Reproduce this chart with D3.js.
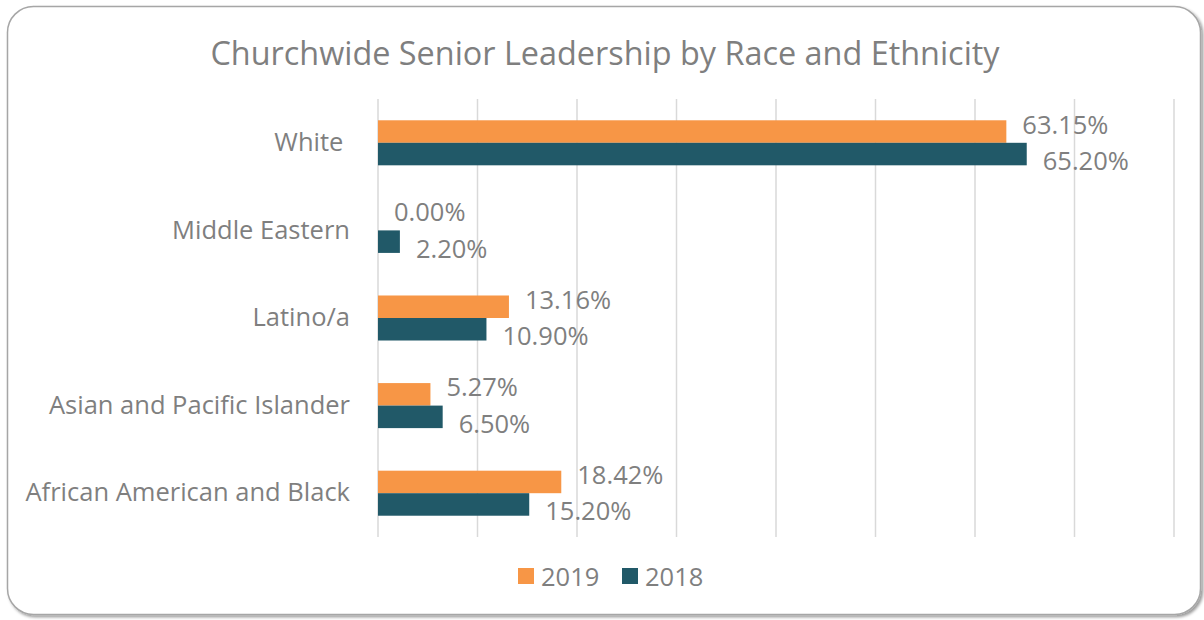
<!DOCTYPE html>
<html>
<head>
<meta charset="utf-8">
<script src="https://cdn.jsdelivr.net/npm/d3@7"></script>
<style>
  html, body { margin: 0; padding: 0; background: #fff; }
  svg text { font-family: "Open Sans", "Noto Sans", sans-serif; fill: #7f7f7f; white-space: pre; }
</style>
</head>
<body>
<svg id="chart" width="1204" height="620"></svg>
<script>
// categories top to bottom
const categories = ["White ", "Middle Eastern", "Latino/a", "Asian and Pacific Islander", "African American and Black"];
const seriesNames = ["2019", "2018"];
const values2019 = [63.15, 0.00, 13.16, 5.27, 18.42];
const values2018 = [65.20, 2.20, 10.90, 6.50, 15.20];
const xTicks = [0, 10, 20, 30, 40, 50, 60, 70, 80];
const colors = ["#f79646", "#215968"];

const svg = d3.select("#chart");

// card background with shadow
const defs = svg.append("defs");
const filter = defs.append("filter").attr("id", "shadow")
  .attr("x", "-5%").attr("y", "-5%").attr("width", "110%").attr("height", "110%");
filter.append("feDropShadow")
  .attr("dx", 2).attr("dy", 2).attr("stdDeviation", 1.5)
  .attr("flood-color", "#000").attr("flood-opacity", 0.4);

svg.append("rect")
  .attr("x", 7.5).attr("y", 6.5)
  .attr("width", 1193).attr("height", 608)
  .attr("rx", 26).attr("ry", 26)
  .attr("fill", "#fff")
  .attr("stroke", "#a6a6a6")
  .attr("stroke-width", 1.5)
  .attr("filter", "url(#shadow)");

// title
svg.append("text")
  .attr("x", 605).attr("y", 52)
  .attr("text-anchor", "middle")
  .attr("dominant-baseline", "central")
  .style("font-size", "32.4px")
  .text("Churchwide Senior Leadership by Race and Ethnicity");

const plot = {left: 378, right: 1174, top: 99, bottom: 537};

const x = d3.scaleLinear().domain([0, 80]).range([plot.left, plot.right]);
const y = d3.scaleBand().domain(categories)
  .range([plot.top, plot.bottom])
  .paddingInner(0.486).paddingOuter(0.243);
const ySub = d3.scaleBand().domain(seriesNames).range([0, y.bandwidth()]);

// gridlines
svg.append("g")
  .selectAll("line")
  .data(xTicks)
  .enter()
  .append("line")
  .attr("x1", d => x(d)).attr("x2", d => x(d))
  .attr("y1", plot.top).attr("y2", plot.bottom)
  .attr("stroke", "#d9d9d9")
  .attr("stroke-width", 1.5);

// category axis labels
const yAxis = svg.append("g")
  .attr("transform", `translate(${plot.left},0)`)
  .call(d3.axisLeft(y).tickSize(0).tickPadding(28));
yAxis.select(".domain").remove();
yAxis.selectAll("text")
  .style("font-size", "25.5px")
  .attr("fill", "#7f7f7f");

// bars
const rows = categories.map((c, i) => ({
  cat: c,
  vals: [
    {series: "2019", value: values2019[i], color: colors[0], dy: -8},
    {series: "2018", value: values2018[i], color: colors[1], dy: 6}
  ]
}));

const groups = svg.append("g")
  .selectAll("g")
  .data(rows)
  .enter()
  .append("g")
  .attr("transform", d => `translate(0,${y(d.cat)})`);

groups.selectAll("rect")
  .data(d => d.vals)
  .enter()
  .append("rect")
  .attr("x", x(0))
  .attr("y", d => ySub(d.series))
  .attr("width", d => x(d.value) - x(0))
  .attr("height", ySub.bandwidth())
  .attr("fill", d => d.color);

// data labels
groups.selectAll("text")
  .data(d => d.vals)
  .enter()
  .append("text")
  .attr("x", d => x(d.value) + 16)
  .attr("y", d => ySub(d.series) + ySub.bandwidth() / 2 + d.dy)
  .attr("dominant-baseline", "central")
  .style("font-size", "25.5px")
  .text(d => d.value.toFixed(2) + "%");

// legend
const legend = svg.append("g").attr("transform", "translate(518,576)");
const items = legend.selectAll("g")
  .data(seriesNames)
  .enter()
  .append("g")
  .attr("transform", (d, i) => `translate(${i * 104},0)`);
items.append("rect")
  .attr("x", 0).attr("y", -8)
  .attr("width", 16).attr("height", 16)
  .attr("fill", (d, i) => colors[i]);
items.append("text")
  .attr("x", 23).attr("y", 0)
  .attr("dominant-baseline", "central")
  .style("font-size", "25.5px")
  .text(d => d);
</script>
</body>
</html>
